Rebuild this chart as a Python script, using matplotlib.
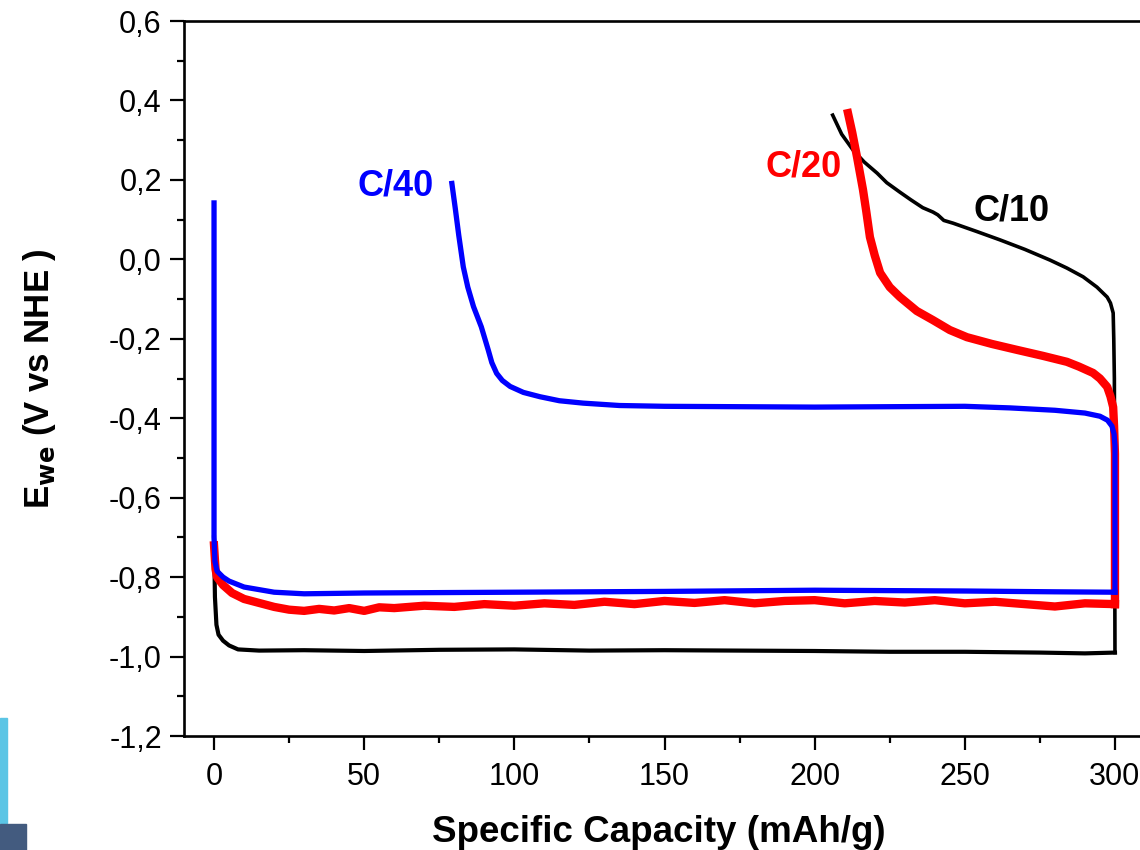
import matplotlib.pyplot as plt
from matplotlib.ticker import MultipleLocator, FuncFormatter
from matplotlib.patches import Rectangle

plt.rcParams['font.family'] = ['Liberation Sans', 'DejaVu Sans']

# C/10 (black): discharge then charge (charge plotted back from 300)
c10_dis_x = [0, 0.3, 0.8, 1.5, 3, 5, 8, 15, 30, 50, 75, 100, 125, 150, 175, 200, 225, 250, 275, 290, 300]
c10_dis_y = [-0.70, -0.85, -0.92, -0.945, -0.96, -0.972, -0.982, -0.985, -0.984, -0.986, -0.983, -0.982,
             -0.985, -0.984, -0.985, -0.986, -0.988, -0.988, -0.99, -0.992, -0.99]
c10_ch_x = [300, 299.8, 299.6, 299.4, 298.5, 297.4, 294, 289.4, 284, 278.4, 270, 261.7, 254, 246.1, 243, 241,
            239.4, 236, 232, 228.4, 224, 220.8, 216.5, 212.8, 209, 206.0]
c10_ch_y = [-0.99, -0.30, -0.20, -0.135, -0.11, -0.095, -0.07, -0.044, -0.022, -0.002, 0.025, 0.049, 0.07,
            0.091, 0.098, 0.112, 0.119, 0.13, 0.15, 0.169, 0.193, 0.217, 0.245, 0.275, 0.315, 0.363]

# C/20 (red)
c20_dis_x = [0, 0.5, 1, 3, 6, 10, 15, 20, 25, 30, 35, 40, 45, 50, 55, 60, 70, 80, 90, 100, 110, 120, 130, 140,
             150, 160, 170, 180, 190, 200, 210, 220, 230, 240, 250, 260, 270, 280, 290, 300]
c20_dis_y = [-0.72, -0.78, -0.80, -0.82, -0.84, -0.855, -0.865, -0.875, -0.882, -0.885, -0.88, -0.884, -0.878,
             -0.885, -0.876, -0.878, -0.872, -0.875, -0.868, -0.872, -0.866, -0.87, -0.862, -0.868, -0.86, -0.865,
             -0.858, -0.866, -0.86, -0.858, -0.866, -0.86, -0.864, -0.858, -0.866, -0.862, -0.868, -0.874, -0.866,
             -0.868]
c20_ch_x = [300, 300, 299.7, 299.4, 298.5, 297.4, 295, 292.7, 288, 284, 276, 267.4, 259, 250.7, 245, 239.4,
            234, 228.4, 225, 221.8, 220, 218.4, 217.2, 216.1, 214.1, 212.5, 211.1]
c20_ch_y = [-0.868, -0.49, -0.42, -0.372, -0.345, -0.321, -0.30, -0.286, -0.27, -0.258, -0.243, -0.228, -0.213,
            -0.196, -0.178, -0.153, -0.13, -0.095, -0.07, -0.034, 0.01, 0.056, 0.12, 0.175, 0.258, 0.32, 0.368]

# C/40 (blue)
c40_dis_x = [0, 0, 0.3, 1, 3, 5, 10, 20, 30, 50, 100, 150, 200, 250, 280, 300]
c40_dis_y = [0.142, -0.70, -0.76, -0.785, -0.80, -0.81, -0.825, -0.838, -0.842, -0.84, -0.838, -0.836, -0.833,
             -0.835, -0.837, -0.838]
c40_ch_x = [300, 300, 299.7, 299, 297.5, 295, 290, 280, 265, 250, 225, 200, 175, 150, 135, 122.9, 115, 108.6,
            103, 98.6, 96, 94.1, 92.5, 91.3, 89, 86.4, 84.5, 83.0, 81.5, 80.3, 79.2]
c40_ch_y = [-0.838, -0.47, -0.44, -0.42, -0.405, -0.395, -0.387, -0.38, -0.374, -0.37, -0.371, -0.372, -0.371,
            -0.37, -0.368, -0.362, -0.356, -0.346, -0.335, -0.320, -0.305, -0.287, -0.26, -0.228, -0.17, -0.119,
            -0.07, -0.019, 0.06, 0.13, 0.191]

fig = plt.figure(figsize=(11.4, 8.5), dpi=100)
ax = fig.add_axes([184 / 1140, 114 / 850, 961 / 1140, 715 / 850])

ax.plot(c10_dis_x, c10_dis_y, color='black', linewidth=3.0, solid_joinstyle='round')
ax.plot(c10_ch_x, c10_ch_y, color='black', linewidth=2.6, solid_joinstyle='round')
ax.plot(c20_dis_x, c20_dis_y, color='red', linewidth=6, solid_joinstyle='round')
ax.plot(c20_ch_x, c20_ch_y, color='red', linewidth=6, solid_joinstyle='round')
ax.plot(c40_dis_x, c40_dis_y, color='blue', linewidth=3.8, solid_joinstyle='round')
ax.plot(c40_ch_x, c40_ch_y, color='blue', linewidth=3.8, solid_joinstyle='round')

ax.text(73, 0.185, 'C/40', color='blue', fontsize=26, fontweight='bold', ha='right', va='center')
ax.text(209, 0.232, 'C/20', color='red', fontsize=26, fontweight='bold', ha='right', va='center')
ax.text(253, 0.122, 'C/10', color='black', fontsize=26, fontweight='bold', ha='left', va='center')

ax.set_xlim(-10, 310)
ax.set_ylim(-1.2, 0.6)
ax.xaxis.set_major_locator(MultipleLocator(50))
ax.xaxis.set_minor_locator(MultipleLocator(25))
ax.yaxis.set_major_locator(MultipleLocator(0.2))
ax.yaxis.set_minor_locator(MultipleLocator(0.1))
ax.yaxis.set_major_formatter(FuncFormatter(lambda v, p: f'{v:.1f}'.replace('.', ',').replace('-0,0', '0,0')))

ax.tick_params(which='major', direction='out', length=10, width=1.6, labelsize=22, pad=6)
ax.tick_params(axis='x', which='major', pad=9)
ax.tick_params(which='minor', direction='out', length=5, width=1.6)
for s in ax.spines.values():
    s.set_linewidth(1.9)

ax.set_xlabel('Specific Capacity (mAh/g)', fontsize=26.5, fontweight='bold')
ax.set_ylabel(r'E$_{\mathbf{we}}$ (V vs NHE )', fontsize=25, fontweight='bold')
ax.xaxis.set_label_coords(0.494, -0.111)
ax.yaxis.set_label_coords(-0.131, 0.5)

# decoration in the bottom-left corner
fig.patches.append(Rectangle((0, 27 / 850), 7 / 1140, 105 / 850, transform=fig.transFigure,
                             color='#5BC5E5', zorder=0))
fig.patches.append(Rectangle((0, 0), 26 / 1140, 26 / 850, transform=fig.transFigure,
                             color='#435B7F', zorder=0))

fig.savefig('out.png', dpi=100)
